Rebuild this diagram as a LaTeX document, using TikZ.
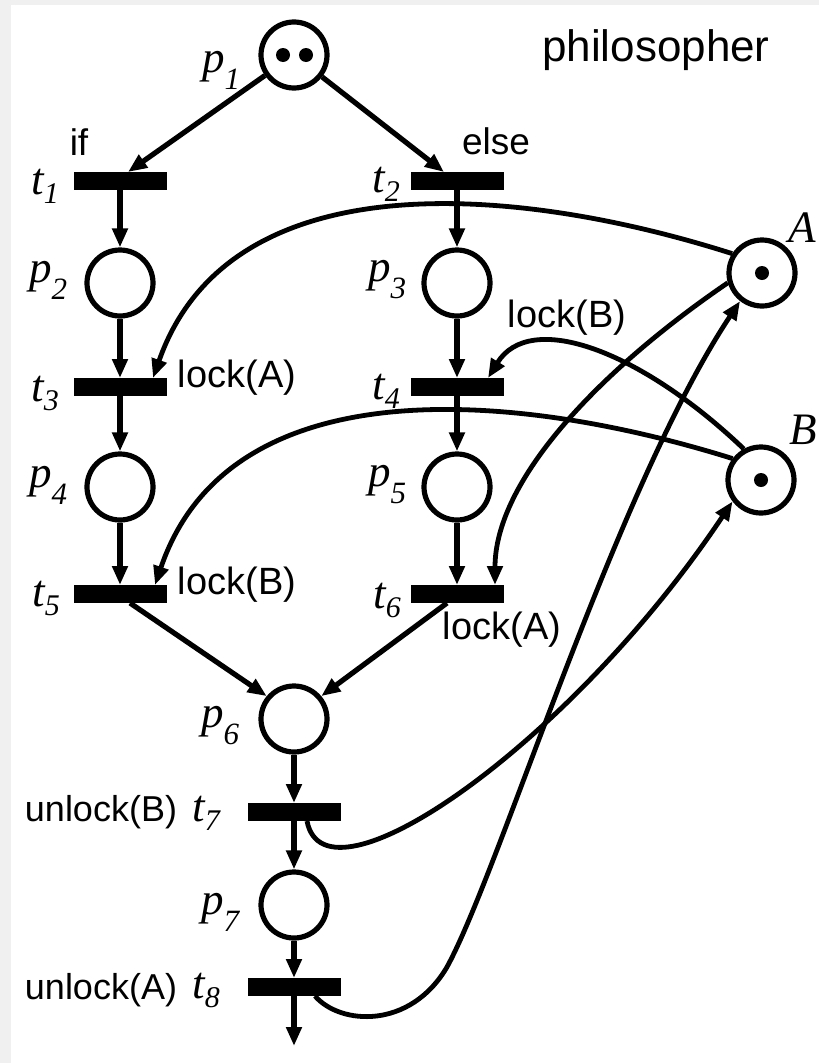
\documentclass[tikz,border=0pt]{standalone}
\usepackage{fontspec}
\setmainfont{Liberation Sans}
\newfontfamily\serifit{Liberation Serif}
\usetikzlibrary{arrows.meta}

% italic place / transition names with lowered indices
\newcommand{\plbl}[2]{{\fontsize{45}{45}\selectfont\serifit\itshape #1}\raisebox{-17pt}{\fontsize{31}{31}\selectfont\serifit\itshape #2}}
\newcommand{\tlbl}[2]{{\fontsize{45}{45}\selectfont\serifit\itshape #1}\raisebox{-9pt}{\fontsize{30}{30}\selectfont\serifit\itshape #2}}

\tikzset{
  place/.style={circle, draw, line width=5.2pt, minimum size=66pt, inner sep=0pt},
  trans/.style={rectangle, fill=black, minimum width=93pt, minimum height=18pt, inner sep=0pt, outer sep=0pt},
  token/.style={circle, fill=black, minimum size=14pt, inner sep=0pt},
  flow/.style={line width=5.2pt, -{Triangle[length=19pt,width=15pt]}},
  curvedarc/.style={line width=4.8pt, -{Triangle[length=19pt,width=15pt]}},
  lbl/.style={inner sep=0pt},
  word/.style={inner sep=0pt, font=\fontsize{38}{42}\selectfont}
}

\begin{document}
\begin{tikzpicture}[x=1pt,y=-1pt]
\useasboundingbox (0,0) rectangle (819,1063);
\fill[black!6] (0,0) rectangle (819,1063);
\fill[white] (11,5) rectangle (819,1063);

% places
\node[place] (p1) at (294,55) {};
\node[place] (p2) at (120,283) {};
\node[place] (p3) at (457,283) {};
\node[place] (p4) at (120,487) {};
\node[place] (p5) at (457,487) {};
\node[place] (p6) at (294,719) {};
\node[place] (p7) at (294,905) {};
\node[place] (A) at (762,273) {};
\node[place] (B) at (761,480) {};

% tokens
\node[token] (k1) at (283,55) {};
\node[token] (k2) at (306,55) {};
\node[token] (kA) at (762,273) {};
\node[token] (kB) at (761,480) {};

% transitions
\node[trans] (t1) at (120,181) {};
\node[trans] (t2) at (457,181) {};
\node[trans] (t3) at (120,387) {};
\node[trans] (t4) at (457,387) {};
\node[trans] (t5) at (120,594) {};
\node[trans] (t6) at (457,594) {};
\node[trans] (t7) at (294,812) {};
\node[trans] (t8) at (294,987) {};
\coordinate (sink) at (294,1046);

% names
\node[lbl] (lp1) at (221,70) {\plbl{p}{1}};
\node[lbl] (lp2) at (48,280) {\plbl{p}{2}};
\node[lbl] (lp3) at (387,280) {\plbl{p}{3}};
\node[lbl] (lp4) at (48,485) {\plbl{p}{4}};
\node[lbl] (lp5) at (387,485) {\plbl{p}{5}};
\node[lbl] (lp6) at (220,726) {\plbl{p}{6}};
\node[lbl] (lp7) at (220,912) {\plbl{p}{7}};
\node[lbl] (lt1) at (45,186) {\tlbl{t}{1}};
\node[lbl] (lt2) at (386,184) {\tlbl{t}{2}};
\node[lbl] (lt3) at (45,393) {\tlbl{t}{3}};
\node[lbl] (lt4) at (386,391) {\tlbl{t}{4}};
\node[lbl] (lt5) at (46,598) {\tlbl{t}{5}};
\node[lbl] (lt6) at (387,600) {\tlbl{t}{6}};
\node[lbl] (lt7) at (206,813) {\tlbl{t}{7}};
\node[lbl] (lt8) at (206,990) {\tlbl{t}{8}};
\node[lbl] (lA) at (802,228) {\fontsize{45}{45}\selectfont\serifit\itshape A};
\node[lbl] (lB) at (803,430) {\fontsize{45}{45}\selectfont\serifit\itshape B};

% annotations
\node[word, font=\fontsize{44}{48}\selectfont, anchor=west] (title) at (542,50) {philosopher};
\node[word, font=\fontsize{37}{42}\selectfont] (wif) at (79,142) {if};
\node[word, font=\fontsize{37}{42}\selectfont] (welse) at (496,141) {else};
\node[word] (w3) at (237,378) {lock(A)};
\node[word] (w4) at (567,318) {lock(B)};
\node[word] (w5) at (237,585) {lock(B)};
\node[word] (w6) at (502,630) {lock(A)};
\node[word, font=\fontsize{36}{40}\selectfont] (w7) at (101,812) {unlock(B)};
\node[word, font=\fontsize{36}{40}\selectfont] (w8) at (101,990) {unlock(A)};

% arcs of the two branches
\draw[flow] (p1) -- ([xshift=8pt]t1.north);
\draw[flow] (p1) -- ([xshift=-13pt]t2.north);
\draw[flow] (t1) -- (p2);
\draw[flow] (p2) -- (t3);
\draw[flow] (t3) -- (p4);
\draw[flow] (p4) -- (t5);
\draw[flow] (t2) -- (p3);
\draw[flow] (p3) -- (t4);
\draw[flow] (t4) -- (p5);
\draw[flow] (p5) -- (t6);
\draw[flow] ([xshift=10pt]t5.south) -- (p6.140);
\draw[flow] ([xshift=-10pt]t6.south) -- (p6.40);
\draw[flow] (p6) -- (t7);
\draw[flow] (t7) -- (p7);
\draw[flow] (p7) -- (t8);
\draw[flow] (t8) -- (sink);

% lock arcs from the resources
\draw[curvedarc] (A.147) .. controls (520,186) and (230,158) .. ([xshift=33pt]t3.north);
\draw[curvedarc] (B.143) .. controls (520,392) and (230,364) .. ([xshift=35pt]t5.north);
\draw[curvedarc] (B.119) .. controls (640,350) and (530,310) .. ([xshift=31pt]t4.north);
\draw[curvedarc] (A.196) .. controls (600,370) and (495,480) .. ([xshift=38pt]t6.north);

% unlock arcs back to the resources
\coordinate (turn) at (447,967);
\draw[curvedarc] ([xshift=13pt]t7.south) .. controls (325,915) and (570,745) .. (B.217);
\draw[curvedarc] ([xshift=21pt]t8.south) .. controls (340,1025) and (410,1030) .. (turn)
  .. controls (500,870) and (615,490) .. (A.232);
\end{tikzpicture}
\end{document}
